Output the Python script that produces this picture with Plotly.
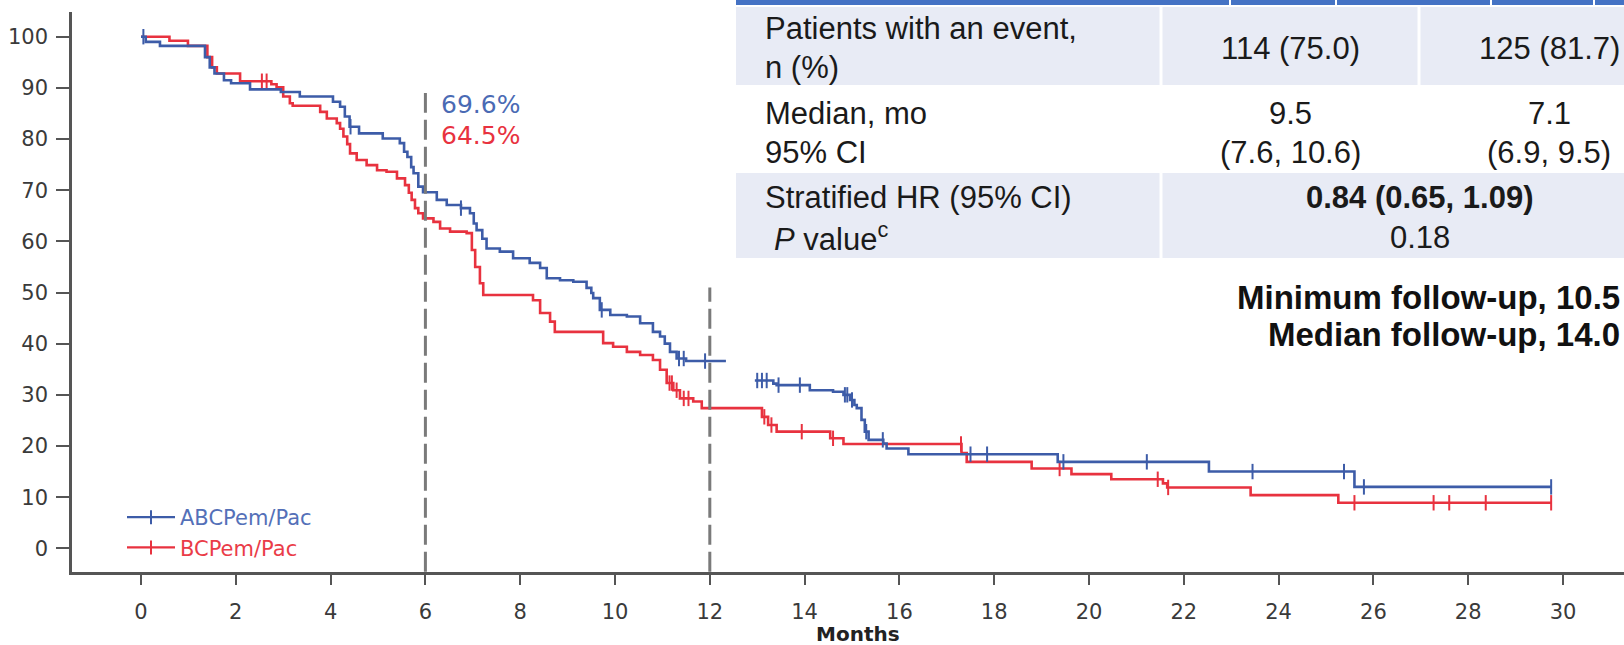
import numpy as np
import plotly.graph_objects as go

# ---------------- data ----------------
blue_name = "ABCPem/Pac"
red_name = "BCPem/Pac"

blue_t = [0, 0.1, 0.4, 1.35, 1.45, 1.55, 1.75, 1.9, 2.3, 2.95, 3.35, 4.05, 4.2, 4.3, 4.4, 4.6,
          5.1, 5.46, 5.55, 5.62, 5.7, 5.75, 5.85, 5.95, 6.24, 6.45, 6.75, 6.94, 7.02, 7.08, 7.2,
          7.29, 7.57, 7.85, 8.2, 8.42, 8.56, 8.84, 9.12, 9.4, 9.5, 9.54, 9.68, 9.9, 10.25, 10.53,
          10.8, 10.95, 11.05, 11.16, 11.3, 11.5, 12.34, None,
          12.95, 13.34, 13.41, 14.11, 14.6, 14.82, 14.96, 15.05, 15.1, 15.2, 15.27, 15.35, 15.66,
          15.73, 16.19, 19.34, 22.53, 25.6, 29.75]
blue_s = [100, 99, 98.2, 96, 94, 92.8, 91.5, 90.9, 89.7, 89.2, 88.3, 87.3, 86.3, 84.4, 82.4, 81.1,
          80.1, 79.2, 77.5, 76.5, 74.5, 73.3, 70.7, 69.6, 68.1, 67.1, 66.5, 65.5, 63.5, 62.2, 60.5,
          58.6, 58.0, 56.7, 55.8, 54.8, 52.8, 52.4, 52.1, 50.9, 49.9, 48.9, 46.6, 45.6, 45.3, 44.0,
          42.3, 41.4, 40.0, 38.4, 37.1, 36.6, 36.6, None,
          32.8, 32.2, 31.9, 30.9, 30.6, 30.0, 29.0, 28.0, 27.4, 25.1, 22.8, 21.2, 20.5,
          19.5, 18.4, 16.9, 15.0, 12.0, 12.0]

red_t = [0, 0.6, 0.99, 1.4, 1.5, 1.6, 2.09, 2.75, 2.86, 3.0, 3.14, 3.2, 3.78, 3.92, 4.13, 4.2,
         4.27, 4.35, 4.41, 4.55, 4.76, 4.98, 5.18, 5.4, 5.57, 5.65, 5.71, 5.78, 5.85, 5.95, 6.17,
         6.31, 6.52, 6.87, 6.98, 7.05, 7.15, 7.22, 8.27, 8.42, 8.63, 8.73, 9.75, 9.96, 10.25,
         10.53, 10.8, 10.95, 11.09, 11.23, 11.37, 11.65, 11.83, 13.1, 13.23, 13.41, 14.54, 14.82,
         17.31, 17.42, 18.79, 19.63, 20.47, 21.56, 21.65, 23.41, 25.26, 29.75]
red_s = [100, 99.2, 98.2, 96, 94, 92.8, 91.3, 90.7, 90.1, 88.3, 87.0, 86.5, 85.3, 84.0, 83.1, 82.0,
         80.5, 79.0, 77.2, 75.9, 74.9, 73.9, 73.6, 72.3, 71.0, 69.5, 68.1, 66.5, 65.5, 64.5, 63.8,
         62.5, 61.9, 61.6, 58.3, 55.0, 51.8, 49.5, 48.5, 46.0, 44.3, 42.3, 40.1, 39.4, 38.4,
         37.8, 36.8, 34.9, 32.3, 30.9, 29.3, 28.7, 27.4, 25.7, 24.1, 22.8, 21.5, 20.4,
         18.6, 16.9, 15.6, 14.5, 13.5, 12.7, 11.9, 10.4, 8.9, 8.9]

blue_censor_t = [0.05, 4.42, 6.75, 9.72, 11.35, 11.45, 11.9, 13.0, 13.1, 13.2, 13.45, 13.9, 14.85,
                 14.9, 15.0, 15.3, 15.65, 17.5, 17.85, 19.46, 21.22, 23.45, 25.38, 25.8, 29.75]
red_censor_t = [2.55, 2.65, 11.15, 11.2, 11.3, 11.45, 11.55, 13.15, 13.3, 13.94, 14.6, 17.3,
                19.38, 21.45, 21.67, 25.6, 27.27, 27.6, 28.37, 29.75]

x_ticks = list(range(0, 31, 2))
y_ticks = list(range(0, 101, 10))
landmarks = [6, 12]
landmark_top = [89, 51]
blue_6mo, red_6mo = "69.6%", "64.5%"

table_rows = [
    (["Patients with an event,", "n (%)"], ["114 (75.0)"], ["125 (81.7)"]),
    (["Median, mo", "95% CI"], ["9.5", "(7.6, 10.6)"], ["7.1", "(6.9, 9.5)"]),
]
hr_labels = ["Stratified HR (95% CI)", "<i>P</i> value<sup>c</sup>"]
hr_values = ["<b>0.84 (0.65, 1.09)</b>", "0.18"]
followup = ["Minimum follow-up, 10.5", "Median follow-up, 14.0"]

BLUE = "#3d5ca8"
RED = "#e8323f"

# ---------------- geometry helpers ----------------
W, H = 1624, 645
L, R, T, B = 72, 0, 12, 73
PW, PH = W - L - R, H - T - B


def px(xp):
    return (xp - L) / PW


def py(yp):
    return (H - B - yp) / PH


def step_lookup(ts, ss, t):
    pairs = [(a, b) for a, b in zip(ts, ss) if a is not None]
    tt = np.array([p[0] for p in pairs])
    vv = np.array([p[1] for p in pairs])
    i = np.searchsorted(tt, t, side="right") - 1
    return float(vv[max(i, 0)])


fig = go.Figure()

for ts, ss, ct, col in [(red_t, red_s, red_censor_t, RED),
                        (blue_t, blue_s, blue_censor_t, BLUE)]:
    fig.add_trace(go.Scatter(x=ts, y=ss, mode="lines", line=dict(color=col, width=2.6, shape="hv"),
                             showlegend=False, connectgaps=False, hoverinfo="skip"))
    fig.add_trace(go.Scatter(x=ct, y=[step_lookup(ts, ss, t) for t in ct], mode="markers",
                             marker=dict(symbol="line-ns-open", size=11, color=col,
                                         line=dict(color=col, width=2)),
                             showlegend=False, hoverinfo="skip"))

for col, lcol, name in [(BLUE, "#5470b8", blue_name), (RED, "#ea3c48", red_name)]:
    fig.add_trace(go.Scatter(x=[None], y=[None], mode="lines+markers",
                             name="<span style='color:%s'>%s</span>" % (lcol, name),
                             line=dict(color=col, width=2.2),
                             marker=dict(symbol="line-ns-open", size=10, color=col,
                                         line=dict(color=col, width=2))))

shapes = []
for lx, top in zip(landmarks, landmark_top):
    shapes.append(dict(type="line", xref="x", yref="y", x0=lx, x1=lx, y0=-4.6, y1=top,
                       line=dict(color="#7a7a7a", width=3, dash="20px,7px")))

LAV = "#e8ebf5"
shapes.append(dict(type="rect", xref="paper", yref="paper", x0=px(736), x1=px(1624), y0=py(5), y1=py(0),
                   fillcolor="#4472c4", line=dict(width=0), layer="above"))
for gx in [1230, 1336, 1491, 1594]:
    shapes.append(dict(type="line", xref="paper", yref="paper", x0=px(gx), x1=px(gx), y0=py(5), y1=py(0),
                       line=dict(color="white", width=2), layer="above"))
for y0, y1 in [(7, 85), (173, 258)]:
    shapes.append(dict(type="rect", xref="paper", yref="paper", x0=px(736), x1=px(1624), y0=py(y1), y1=py(y0),
                       fillcolor=LAV, line=dict(width=0), layer="below"))
shapes.append(dict(type="line", xref="paper", yref="paper", x0=px(1161), x1=px(1161), y0=py(258), y1=py(7),
                   line=dict(color="white", width=3), layer="below"))
shapes.append(dict(type="line", xref="paper", yref="paper", x0=px(1419), x1=px(1419), y0=py(173), y1=py(7),
                   line=dict(color="white", width=3), layer="below"))

ann = []
TF = dict(family="Liberation Sans, Arial, sans-serif", size=31, color="#1a1a1a")


def txt(x, y, s, anchor="left", font=TF):
    ann.append(dict(xref="paper", yref="paper", x=px(x), y=py(y), text=s, showarrow=False,
                    xanchor=anchor, yanchor="middle", font=font))


row_y = [(28, 68), (113, 152)]
for (labels, v1, v2), (ya, yb) in zip(table_rows, row_y):
    txt(763, ya, labels[0])
    txt(763, yb, labels[1])
    if len(v1) == 1:
        txt(1290, (ya + yb) / 2, v1[0], "center")
        txt(1549, (ya + yb) / 2, v2[0], "center")
    else:
        txt(1290, ya, v1[0], "center")
        txt(1290, yb, v1[1], "center")
        txt(1549, ya, v2[0], "center")
        txt(1549, yb, v2[1], "center")
txt(763, 197, hr_labels[0])
txt(772, 237, hr_labels[1])
txt(1420, 197, hr_values[0], "center")
txt(1420, 237, hr_values[1], "center")
BF = dict(family="Liberation Sans, Arial, sans-serif", size=33, color="#111111")
txt(1622, 297, "<b>" + followup[0] + "</b>", "right", BF)
txt(1622, 334, "<b>" + followup[1] + "</b>", "right", BF)

PF = dict(family="DejaVu Sans, sans-serif", size=25)
txt(439, 105, blue_6mo, "left", dict(PF, color="#4a6ab4"))
txt(439, 135, red_6mo, "left", dict(PF, color=RED))
txt(858, 634, "<b>Months</b>", "center", dict(family="DejaVu Sans, sans-serif", size=20, color="#222222"))

fig.update_layout(
    width=W, height=H,
    margin=dict(l=L, r=R, t=T, b=B, pad=0),
    paper_bgcolor="white", plot_bgcolor="white",
    shapes=shapes, annotations=ann,
    legend=dict(x=px(122), y=py(497), xanchor="left", yanchor="top",
                font=dict(family="DejaVu Sans, sans-serif", size=21),
                bgcolor="rgba(0,0,0,0)", tracegroupgap=0, itemwidth=48),
    showlegend=True,
)
fig.update_xaxes(range=[-1.456, 31.287], tickvals=x_ticks, ticks="outside", ticklen=10, tickwidth=2,
                 tickcolor="#555", showline=True, linecolor="#555", linewidth=2.5, showgrid=False,
                 zeroline=False, tickfont=dict(family="DejaVu Sans, sans-serif", size=21, color="#3a3a3a"),
                 ticklabelstandoff=9)
fig.update_yaxes(range=[-4.63, 104.83], tickvals=y_ticks, ticks="outside", ticklen=13, tickwidth=2,
                 tickcolor="#555", showline=True, linecolor="#555", linewidth=2.5, showgrid=False,
                 zeroline=False, tickfont=dict(family="DejaVu Sans, sans-serif", size=21, color="#3a3a3a"),
                 ticklabelstandoff=4)

fig.write_html("out.html", config={"displayModeBar": False},
               post_script="document.body.style.margin='0px';document.body.style.overflow='hidden';")
